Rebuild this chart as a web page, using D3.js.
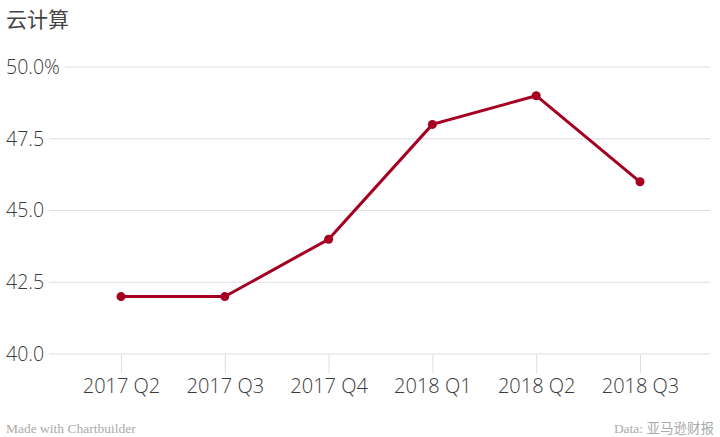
<!DOCTYPE html>
<html><head><meta charset="utf-8">
<script src="https://cdn.jsdelivr.net/npm/d3@7"></script>
<style>body{margin:0;background:#fff}svg{display:block}</style>
</head><body>
<script>
const categories = ["2017 Q2","2017 Q3","2017 Q4","2018 Q1","2018 Q2","2018 Q3"];
const values = [42, 42, 44, 48, 49, 46];
const yTicks = [40, 42.5, 45, 47.5, 50];
const title = "云计算";
const credit = "Made with Chartbuilder";
const source = "Data: 亚马逊财报";

const W = 720, H = 437;
const svg = d3.select("body").append("svg").attr("width", W).attr("height", H);
const font = "'Open Sans', sans-serif";
const x = d3.scalePoint().domain(categories).range([121, 640]);
const y = d3.scaleLinear().domain([40, 50]).range([354, 67]);

svg.append("text").attr("x", 6).attr("y", 27).text(title)
  .attr("font-family", "'Noto Sans CJK SC', sans-serif").attr("font-size", 21).attr("fill", "#444");

const g = svg.append("g");
yTicks.forEach(t => {
  const lab = g.append("text").attr("x", 6).attr("y", y(t)).attr("dy", "0.35em")
    .attr("font-family", font).attr("font-size", 19.5).attr("font-weight", 300).attr("fill", "#3a3a3a")
    .text(t === 50 ? d3.format(".1f")(t) + "%" : d3.format(".1f")(t));
  const w = lab.node().getComputedTextLength();
  g.insert("line", ":first-child").attr("x1", 6 + w + 5).attr("x2", 710)
    .attr("y1", y(t)).attr("y2", y(t)).attr("stroke", "#ddd").attr("stroke-width", 1);
});

const xAxis = svg.append("g").attr("transform", "translate(0,355)")
  .call(d3.axisBottom(x).tickSize(18).tickPadding(6));
xAxis.select(".domain").remove();
xAxis.selectAll(".tick line").attr("stroke", "#ddd");
xAxis.selectAll(".tick text").attr("font-family", font).attr("font-size", 20).attr("font-weight", 300).attr("fill", "#3a3a3a");

const line = d3.line().x((d, i) => x(categories[i])).y(d => y(d));
svg.append("path").datum(values).attr("d", line).attr("fill", "none")
  .attr("stroke", "#a50022").attr("stroke-width", 3);
svg.selectAll("circle.pt").data(values).join("circle")
  .attr("cx", (d, i) => x(categories[i])).attr("cy", d => y(d)).attr("r", 4.5).attr("fill", "#a50022");

svg.append("text").attr("x", 6).attr("y", 433).text(credit)
  .attr("font-family", "'Liberation Serif', serif").attr("font-size", 13.5).attr("fill", "#aaa");
svg.append("text").attr("x", 714).attr("y", 433).attr("text-anchor", "end").text(source)
  .attr("font-family", "'Liberation Serif', 'Noto Sans CJK SC', serif").attr("font-size", 13.5).attr("fill", "#aaa");
</script>
</body></html>
